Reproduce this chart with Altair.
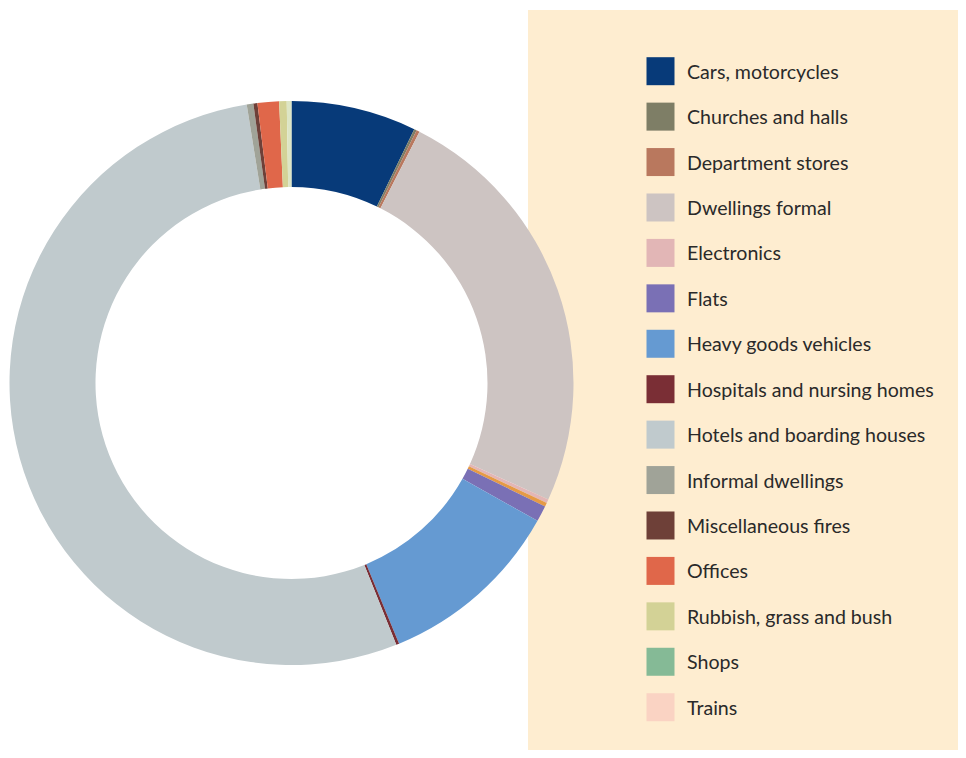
import altair as alt
import pandas as pd

# Slices, clockwise from 12 o'clock (percent of total)
slice_names = [
    "Cars, motorcycles", "Churches and halls", "Department stores",
    "Dwellings formal", "Electronics", "Unlisted (orange)", "Flats",
    "Heavy goods vehicles", "Hospitals and nursing homes",
    "Hotels and boarding houses", "Informal dwellings",
    "Miscellaneous fires", "Offices", "Rubbish, grass and bush",
    "Unlisted (pale)",
]
slice_values = [7.17, 0.15, 0.18, 24.28, 0.21, 0.22, 0.92, 10.64, 0.17,
                53.52, 0.38, 0.23, 1.23, 0.43, 0.27]

# Legend entries
legend_names = [
    "Cars, motorcycles", "Churches and halls", "Department stores",
    "Dwellings formal", "Electronics", "Flats", "Heavy goods vehicles",
    "Hospitals and nursing homes", "Hotels and boarding houses",
    "Informal dwellings", "Miscellaneous fires", "Offices",
    "Rubbish, grass and bush", "Shops", "Trains",
]

color_domain = legend_names + ["Unlisted (orange)", "Unlisted (pale)"]
color_range = [
    "#073A79", "#7E7E66", "#B9785E", "#CDC4C2", "#E2B6B6", "#7A70B5",
    "#659AD2", "#7A2E35", "#C0CACD", "#A0A398", "#6E4038", "#E0674A",
    "#D3D296", "#85BA96", "#FAD3C3", "#E59A45", "#DDE5C5",
]

slices = pd.DataFrame({
    "category": slice_names,
    "value": slice_values,
    "order": list(range(len(slice_names))),
})
legend_df = pd.DataFrame({"category": legend_names})

color_scale = alt.Scale(domain=color_domain, range=color_range)

background = alt.Chart(pd.DataFrame({"k": [0]})).mark_rect(
    color="#FEEDD0"
).encode(
    x=alt.value(520), x2=alt.value(950),
    y=alt.value(2), y2=alt.value(742),
)

donut = alt.Chart(slices).mark_arc(
    innerRadius=196, outerRadius=282, strokeWidth=0
).encode(
    theta=alt.Theta("value:Q", stack=True),
    order=alt.Order("order:Q"),
    color=alt.Color("category:N", scale=color_scale, legend=None),
    x=alt.value(283.5),
    y=alt.value(375),
)

y_enc = alt.Y(
    "category:N",
    sort=legend_names,
    scale=alt.Scale(type="point", range=[63.2, 699.2], padding=0),
    axis=None,
)

swatches = alt.Chart(legend_df).mark_square(
    size=784, opacity=1, filled=True
).encode(
    x=alt.value(652.5),
    y=y_enc,
    color=alt.Color("category:N", scale=color_scale, legend=None),
)

labels = alt.Chart(legend_df).mark_text(
    align="left", baseline="middle", font="Lato", fontSize=19.6,
    color="#2A2A2A", dy=1.5
).encode(
    x=alt.value(679),
    y=y_enc,
    text="category:N",
)

chart = alt.layer(background, donut, swatches, labels).properties(
    width=950, height=742, padding=0, autosize="none", background="white"
).configure_view(strokeWidth=0)

chart.save("out.html", embed_options={"renderer": "svg", "actions": False})
